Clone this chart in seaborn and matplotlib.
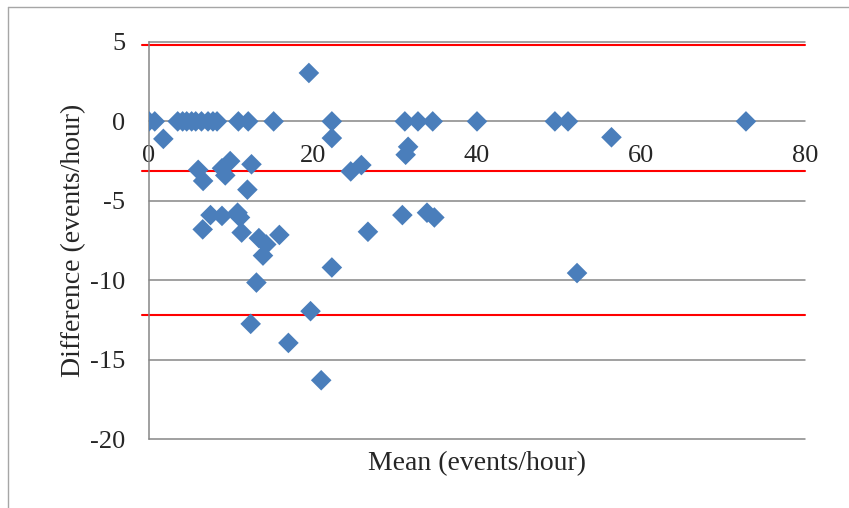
import matplotlib
matplotlib.use('Agg')
import matplotlib.pyplot as plt
import seaborn as sns
import pandas as pd

# valores (media x diferenca)
media = [0.0, 0.7, 3.5, 4.1, 4.6, 5.2, 5.7, 6.4, 7.2, 7.8, 8.3, 10.9, 12.1, 15.2,
         22.3, 31.2, 32.8, 34.6, 40.0, 49.5, 51.1, 72.8,
         1.75, 6.0, 6.6, 8.9, 9.9, 9.3, 12.5, 12.0, 6.55, 7.5, 8.9, 10.8, 11.1,
         11.3, 13.4, 14.3, 13.9, 15.9, 13.1, 12.4, 19.7, 17.0, 21.0, 19.5, 22.3,
         24.6, 25.9, 31.6, 31.3, 26.7, 30.9, 33.9, 34.8, 22.3, 56.4, 52.2]
diferenca = [0] * 22 + [
    -1.1, -3.05, -3.75, -2.95, -2.5, -3.4, -2.7, -4.3, -6.8, -5.9, -5.95, -5.75, -6.05,
    -7.0, -7.35, -7.75, -8.45, -7.15, -10.15, -12.75, -11.95, -13.95, -16.3, 3.05, -1.05,
    -3.15, -2.75, -1.6, -2.1, -6.95, -5.9, -5.75, -6.05, -9.2, -1.0, -9.55]

# limites de concordancia (linhas vermelhas)
limites = [4.8, -3.15, -12.2]

xticks = [0, 20, 40, 60, 80]
yticks = [5, 0, -5, -10, -15, -20]

df = pd.DataFrame({'media': media, 'diferenca': diferenca})

sns.set_style('white')
plt.rcParams['font.family'] = ['Liberation Serif', 'DejaVu Serif']
plt.rcParams['axes.unicode_minus'] = False

fig = plt.figure(figsize=(8.49, 5.08), dpi=100)
ax = fig.add_axes([149 / 849, 1 - 439 / 508, (805 - 149) / 849, (439 - 42) / 508])

sns.scatterplot(data=df, x='media', y='diferenca', marker='D', s=110,
                color='#4a7ebb', edgecolor='none', ax=ax, zorder=3)

for v in limites:
    ax.axhline(v, xmin=-0.01, xmax=1, color='#ff0000', lw=1.5, clip_on=False, zorder=2)

ax.set_xlim(0, 80)
ax.set_ylim(-20, 5)
ax.set_xticks(xticks)
ax.set_yticks(yticks)
ax.yaxis.grid(True, color='#868686', lw=1.1)
for linha in ax.get_ygridlines():
    linha.set_clip_on(False)

for s in ['top', 'right']:
    ax.spines[s].set_visible(False)
ax.spines['left'].set_color('#868686')
ax.spines['left'].set_linewidth(1.1)
ax.spines['bottom'].set_position(('data', 0))
ax.spines['bottom'].set_visible(False)

ax.tick_params(axis='x', length=0, pad=17, labelsize=19)
ax.tick_params(axis='y', length=0, pad=17, labelsize=19)

ax.set_xlabel('Mean (events/hour)', fontsize=20)
ax.set_ylabel('Difference (events/hour)', fontsize=20, labelpad=3)
ax.xaxis.set_label_coords(0.5, -0.03)

# moldura da figura
fig.add_artist(plt.Line2D([8 / 849, 1], [1 - 7 / 508, 1 - 7 / 508], color='#a6a6a6', lw=1))
fig.add_artist(plt.Line2D([8 / 849, 8 / 849], [0, 1 - 7 / 508], color='#a6a6a6', lw=1))

fig.savefig('out.png', dpi=100)
